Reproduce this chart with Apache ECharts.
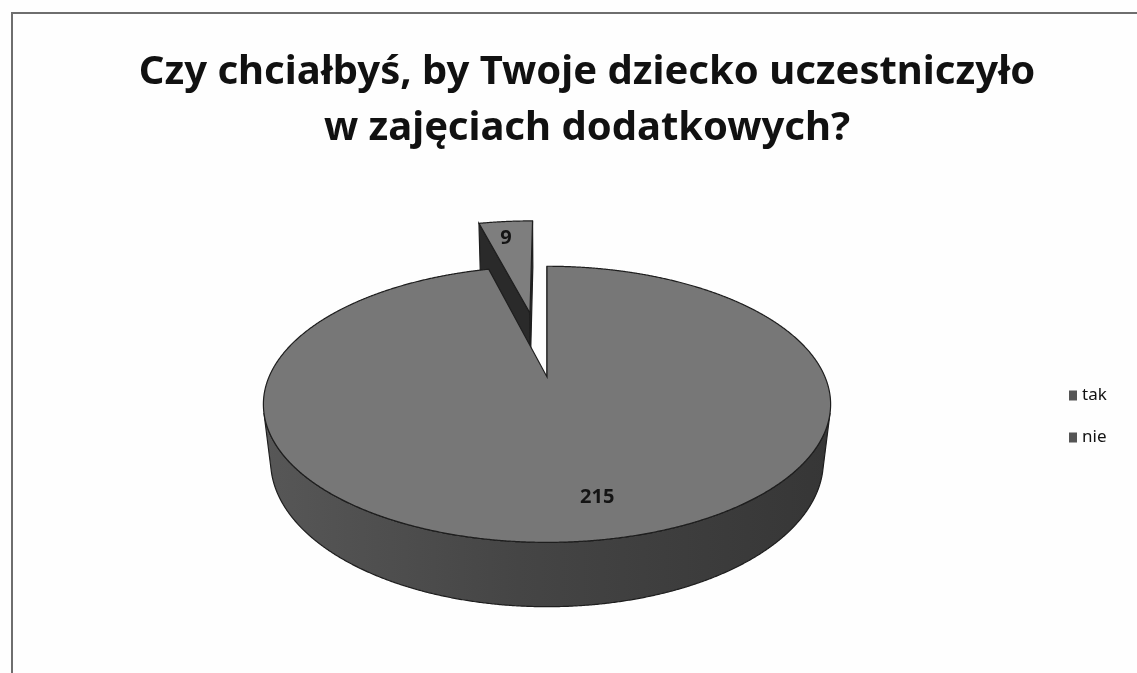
<!DOCTYPE html>
<html><head><meta charset="utf-8">
<script src="https://cdn.jsdelivr.net/npm/echarts@6/dist/echarts.min.js"></script>
<style>html,body{margin:0;padding:0;background:#fff}#c{width:1137px;height:673px}</style>
</head><body><div id="c"></div>
<script>
// ---- data ----
const categories = ['tak', 'nie'];
const values = [215, 9];
const titleLines = ['Czy chciałbyś, by Twoje dziecko uczestniczyło', 'w zajęciach dodatkowych?'];

// ---- styling / 3D view ----
const total = values.reduce((a, b) => a + b, 0);
const VIEW = { cx: 547, cy: 377, f: 1235.5, D: 4.444, phi: 28.5 * Math.PI / 180, H: 0.235 };
const EXPLODE = [0, 0.538];
const TOP = ['#777777', '#7e7e7e'];
const EDGE = '#1e1e1e';
const LABEL_R = 0.8;
const LABEL_SHIFT = [[17, -5], [-4, 1]];
const cosP = Math.cos(VIEW.phi), sinP = Math.sin(VIEW.phi);
const cam = [0, -VIEW.D * cosP, VIEW.D * sinP];

function proj(X, Y, Z) {
  const dist = VIEW.D + Y * cosP - Z * sinP;
  return [VIEW.cx + VIEW.f * X / dist, VIEW.cy - VIEW.f * (Y * sinP + Z * cosP) / dist];
}

function sideFill(idx) {
  return idx === 0
    ? new echarts.graphic.LinearGradient(0, 0, 1, 0, [
        { offset: 0, color: '#575757' }, { offset: 0.45, color: '#454545' }, { offset: 1, color: '#363636' }])
    : '#2a2a2a';
}

function renderSlice(idx) {
  return function (params, api) {
    const before = values.slice(0, idx).reduce((a, b) => a + b, 0);
    const start = before / total * 2 * Math.PI;
    const end = start + api.value(0) / total * 2 * Math.PI;
    const mid = (start + end) / 2, e = EXPLODE[idx], H = VIEW.H;
    const O = [e * Math.sin(mid), e * Math.cos(mid)];
    const pt = (t, r, z) => proj(O[0] + r * Math.sin(t), O[1] + r * Math.cos(t), z);
    const children = [];
    const N = Math.max(4, Math.ceil((end - start) / (Math.PI / 720)));
    const ts = [];
    for (let k = 0; k <= N; k++) ts.push(start + (end - start) * k / N);

    // outer wall (front-facing runs)
    const vis = t => {
      const px = O[0] + Math.sin(t), py = O[1] + Math.cos(t);
      return Math.sin(t) * (cam[0] - px) + Math.cos(t) * (cam[1] - py) > 0;
    };
    let run = [];
    const flush = () => {
      if (run.length > 1) {
        const pts = run.map(t => pt(t, 1, 0)).concat(run.slice().reverse().map(t => pt(t, 1, -H)));
        children.push({ type: 'polygon', shape: { points: pts },
          style: { fill: sideFill(idx), stroke: EDGE, lineWidth: 1.2 } });
      }
      run = [];
    };
    ts.forEach(t => { if (vis(t)) run.push(t); else flush(); });
    flush();

    // radial walls
    const radial = (t, sign) => {
      const tn = [Math.cos(t) * sign, -Math.sin(t) * sign];
      const M = [O[0] + 0.5 * Math.sin(t), O[1] + 0.5 * Math.cos(t), -H / 2];
      const d = tn[0] * (cam[0] - M[0]) + tn[1] * (cam[1] - M[1]);
      if (d < -1e-9) return;
      children.push({ type: 'polygon',
        shape: { points: [pt(t, 0, 0), pt(t, 1, 0), pt(t, 1, -H), pt(t, 0, -H)] },
        style: { fill: '#2a2a2a', stroke: EDGE, lineWidth: 1.2 } });
    };
    radial(start, -1);
    radial(end, 1);

    // top face
    const topPts = [pt(0, 0, 0)].concat(ts.map(t => pt(t, 1, 0)));
    children.push({ type: 'polygon', shape: { points: topPts },
      style: { fill: TOP[idx], stroke: EDGE, lineWidth: 1.2 } });

    // value label
    const lp = pt(mid, LABEL_R, 0);
    children.push({ type: 'text', x: lp[0] + LABEL_SHIFT[idx][0], y: lp[1] + LABEL_SHIFT[idx][1],
      style: { text: String(api.value(0)), fontSize: 20, fontWeight: 'bold',
        fontFamily: 'Noto Sans', fill: '#141414', align: 'center', verticalAlign: 'middle' } });
    return { type: 'group', children };
  };
}

const chart = echarts.init(document.getElementById('c'));
chart.setOption({
  backgroundColor: '#fefefe',
  animation: false,
  title: {
    text: titleLines.join('\n'),
    left: 582, top: 40, textAlign: 'center',
    textStyle: { fontFamily: 'Noto Sans', fontWeight: 'bold', fontSize: 40, lineHeight: 56, color: '#111' }
  },
  legend: {
    orient: 'vertical', left: 1064, top: 382, itemGap: 25,
    icon: 'rect', itemWidth: 8, itemHeight: 10,
    textStyle: { fontFamily: 'Noto Sans', fontSize: 17, color: '#111' },
    data: categories
  },
  graphic: [{
    type: 'polyline', silent: true,
    shape: { points: [[12, 680], [12, 13], [1140, 13]] },
    style: { stroke: '#6e6e6e', lineWidth: 2, fill: null }
  }],
  series: categories.map((name, idx) => {
    const before = values.slice(0, idx).reduce((a, b) => a + b, 0);
    const mid = (before + values[idx] / 2) / total * 2 * Math.PI;
    return {
      type: 'custom', name, coordinateSystem: 'none', silent: true,
      z: Math.cos(mid) > 0 ? 1 : 2,
      itemStyle: { color: '#555555' },
      data: [[values[idx]]],
      renderItem: renderSlice(idx)
    };
  })
});
</script></body></html>
